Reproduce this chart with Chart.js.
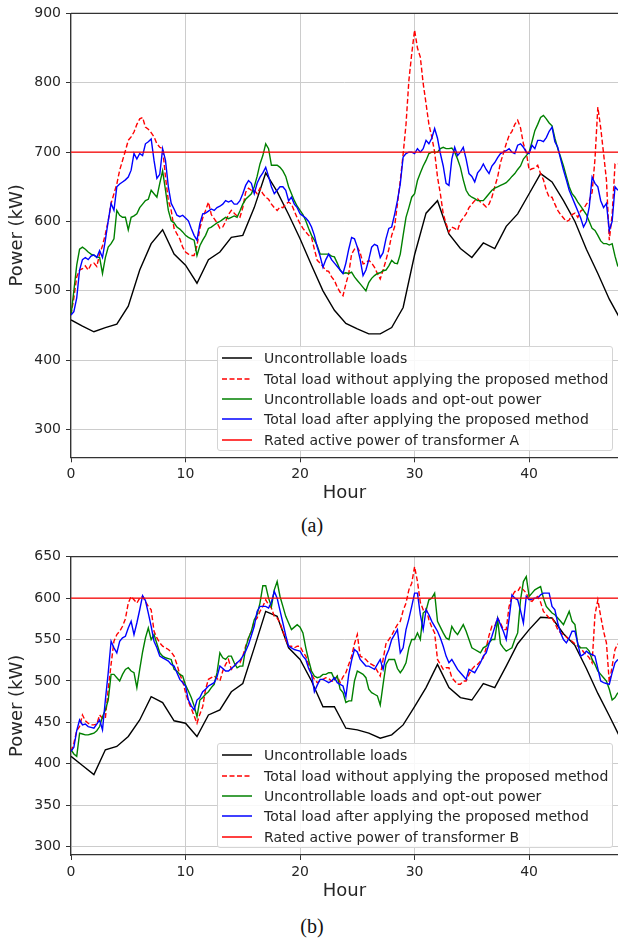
<!DOCTYPE html>
<html>
<head>
<meta charset="utf-8">
<script src="https://cdn.jsdelivr.net/npm/chart.js@4.4.0/dist/chart.umd.min.js"></script>
<style>
html, body { margin: 0; padding: 0; background: #fff; overflow: hidden; }
body { width: 618px; height: 939px; position: relative; font-family: "DejaVu Sans", sans-serif; }
canvas { position: absolute; left: 0; }
#chartA { top: 0; }
#chartB { top: 540px; }
.legend { position: absolute; left: 217px; width: 396px; border: 1px solid #d4d4d4; border-radius: 3px;
  background: rgba(255,255,255,0.85); box-sizing: border-box; z-index: 2; padding-top: 1px; }
.legend .row { height: 20.4px; display: flex; align-items: center; font-size: 14px; color: #262626; white-space: nowrap; }
.legend svg { width: 30px; height: 6px; margin: 0 12px 0 4px; flex: none; }
.caption { position: absolute; left: 0; width: 624px; text-align: center; font-family: "Liberation Serif", serif;
  font-size: 20px; color: #111; }
</style>
</head>
<body>
<canvas id="chartA" width="618" height="510"></canvas>
<canvas id="chartB" width="618" height="370"></canvas>
<div class="legend" id="legendA" style="top:346px"></div>
<div class="legend" id="legendB" style="top:743px"></div>
<div class="caption" style="top:514px">(a)</div>
<div class="caption" style="top:915px">(b)</div>
<script>
// time axis
const STEP = 0.25;
const xTicks = [0, 10, 20, 30, 40];
const yTicksA = [300, 400, 500, 600, 700, 800, 900];
const yTicksB = [300, 350, 400, 450, 500, 550, 600, 650];

const labelsA = [
    'Uncontrollable loads',
    'Total load without applying the proposed method',
    'Uncontrollable loads and opt-out power',
    'Total load after applying the proposed method',
    'Rated active power of transformer A'
];
const labelsB = labelsA.slice(0, 4).concat(['Rated active power of transformer B']);

const ratedA = 700;
const ratedB = 600;

// ---- transformer A (hourly black line, quarter-hour traces) ----
const uncontrolA = [458,449,441,447,452,478,530,568,588,553,537,511,545,556,577,580,620,670,643,610,
    575,537,500,472,453,445,438,438,447,476,552,612,630,582,561,548,569,561,593,611,
    640,669,657,630,600,560,525,488,458];

const withoutA = [
    465,490,520,530, 532,536,530,538, 540,535,553,565, 582,601,626,640,
    654,674,688,702, 717,722,729,740, 748,750,736,733, 728,722,712,707,
    705,664,630,616, 590,582,575,563, 556,553,551,551, 565,590,605,616,
    628,610,604,598, 590,592,600,610, 616,612,608,606, 620,642,648,645,
    645,640,648,640, 635,632,625,620, 616,621,620,625, 628,625,615,605,
    597,590,585,580, 577,560,544,540, 535,529,528,520, 515,505,498,493,
    510,525,553,560, 563,555,539,540, 544,540,534,525, 517,530,544,560,
    580,592,625,659, 697,740,803,842, 876,850,837,799, 770,740,722,700,
    664,640,611,597, 585,592,590,587, 600,605,611,620, 625,630,633,628,
    625,621,625,635, 650,664,685,698, 712,724,730,740, 746,735,712,700,
    674,676,677,681, 669,660,645,635, 635,625,616,610, 605,600,602,610,
    612,606,615,618, 625,630,642,690, 765,735,698,660, 573,610,683,683
];

const optOutA = [
    465,500,537,560, 563,560,556,553, 551,549,548,525, 548,563,568,575,
    616,609,606,606, 588,606,608,611, 620,625,630,632, 645,640,635,655,
    673,645,616,601, 598,592,589,585, 580,577,575,573, 551,565,573,580,
    590,592,595,598, 600,603,606,604, 606,608,606,615, 625,632,636,640,
    650,665,683,695, 712,705,681,681, 681,678,673,665, 650,640,630,622,
    616,610,601,590, 580,573,565,553, 553,553,553,550, 549,540,530,525,
    526,525,527,520, 515,510,505,500, 512,518,522,525, 526,529,530,536,
    544,540,539,553, 580,606,620,635, 640,659,670,680, 688,698,700,700,
    700,705,707,705, 705,706,700,690, 678,660,645,638, 635,633,630,630,
    630,635,640,645, 648,650,652,654, 656,660,665,669, 675,680,690,695,
    700,715,731,740, 750,753,748,742, 738,720,705,693, 680,665,650,640,
    635,628,622,616, 610,600,590,587, 580,572,568,568, 566,568,550,535
];

const afterA = [
    465,470,490,530, 545,548,545,550, 552,548,558,548, 573,601,626,616,
    650,654,657,660, 664,674,698,690, 698,695,712,715, 719,688,662,668,
    705,688,650,626, 618,609,607,609, 605,601,590,580, 573,597,611,612,
    615,618,616,620, 622,625,630,628, 630,625,625,630, 640,652,659,655,
    640,655,664,670, 678,665,650,640, 645,650,650,645, 630,635,625,620,
    611,608,605,600, 592,580,563,550, 534,545,553,545, 540,535,530,525,
    540,560,577,575, 563,545,522,530, 545,563,567,565, 548,555,575,590,
    592,610,630,654, 693,698,700,700, 698,705,700,705, 717,712,720,734,
    720,698,680,655, 652,690,707,695, 700,707,690,669, 665,657,670,675,
    683,675,669,680, 685,692,698,700, 702,705,700,698, 710,712,707,700,
    698,710,705,717, 717,715,721,730, 736,715,707,690, 674,660,645,635,
    625,615,605,592, 600,621,664,655, 650,630,620,626, 587,600,650,645
];

// ---- transformer B ----
const uncontrolB = [409,398,387,417,421,433,453,481,474,452,449,433,459,465,487,497,540,584,578,540,
    526,500,469,469,443,441,437,431,435,447,469,492,520,492,480,477,497,492,518,545,
    562,577,576,557,543,515,485,458,430];

const withoutB = [
    415,425,440,445, 459,452,449,447, 447,448,459,455, 455,490,520,548,
    556,560,566,575, 594,602,598,594, 600,602,596,590, 586,560,552,546,
    542,540,538,535, 530,520,508,500, 486,475,467,458, 449,460,469,490,
    502,504,506,503, 500,512,520,526, 514,518,522,522, 530,542,552,560,
    572,576,584,590, 598,592,588,578, 576,570,560,550, 542,542,540,542,
    542,535,530,520, 508,502,498,500, 502,504,503,500, 500,506,498,505,
    510,520,530,545, 556,530,528,526, 522,520,518,512, 506,526,545,550,
    555,562,568,572, 585,594,610,618, 638,620,595,586, 588,574,565,558,
    526,520,514,516, 516,504,500,496, 496,500,500,508, 514,518,520,524,
    528,540,555,566, 566,576,570,562, 562,590,602,608, 608,614,610,606,
    598,596,600,602, 595,584,580,576, 576,570,562,558, 556,553,550,548,
    545,542,540,535, 532,528,522,580, 598,578,560,546, 498,518,538,545
];

const optOutB = [
    417,412,409,437, 436,435,435,436, 437,440,445,457, 465,477,508,508,
    504,500,508,514, 516,512,510,492, 514,535,552,564, 550,556,545,534,
    530,528,527,526, 514,512,508,506, 495,488,480,470, 457,477,480,484,
    487,492,496,510, 534,528,526,530, 530,522,516,518, 518,540,552,560,
    574,580,594,615, 615,600,590,610, 620,602,590,578, 570,562,565,568,
    565,558,540,525, 512,506,504,505, 508,508,510,510, 502,506,490,486,
    474,476,476,500, 512,510,508,504, 490,486,484,482, 471,496,520,526,
    526,526,515,510, 515,522,540,550, 550,558,550,582, 585,598,600,606,
    572,565,558,552, 550,566,560,556, 562,568,560,550, 540,538,536,534,
    540,542,546,550, 550,574,545,540, 536,538,540,550, 558,598,620,626,
    602,606,610,612, 614,600,590,586, 582,580,576,572, 568,576,584,572,
    568,544,540,540, 540,536,526,520, 512,508,504,500, 490,477,480,486
];

const afterB = [
    415,420,440,453, 447,448,445,444, 443,448,453,441, 477,510,548,540,
    534,548,552,554, 564,572,556,570, 586,603,597,582, 566,548,540,530,
    528,526,524,520, 518,510,502,498, 494,477,470,465, 477,480,487,490,
    494,496,498,505, 518,515,512,512, 515,518,522,525, 530,536,544,555,
    566,584,590,590, 590,588,595,608, 600,585,570,555, 542,540,538,537,
    536,530,526,515, 508,487,495,502, 502,500,498,500, 504,498,496,494,
    481,508,525,538, 535,526,522,518, 518,516,514,520, 526,514,530,538,
    550,556,562,534, 540,562,575,590, 606,606,580,562, 586,580,572,566,
    560,552,542,530, 522,526,520,514, 510,506,502,514, 512,510,516,522,
    530,534,545,554, 565,576,568,560, 550,575,604,600, 598,585,570,602,
    598,599,600,600, 604,606,606,606, 590,586,570,558, 550,546,552,560,
    560,545,530,532, 536,533,532,530, 515,500,498,497, 496,510,522,526
];

const colors = ['#000000', '#ff0000', '#008000', '#0000ff', '#ff0000'];
const dashes = [[], [5, 2.5], [], [], []];

const X_MAX = 47.76;

function pts(vals, step) {
    return vals.map((v, i) => ({ x: i * step, y: v }));
}

function makeSets(labels, black, red, green, blue, rated) {
    const series = [pts(black, 1), pts(red, STEP), pts(green, STEP), pts(blue, STEP),
        [{ x: 0, y: rated }, { x: 48, y: rated }]];
    return series.map((d, i) => ({
        label: labels[i],
        data: d,
        borderColor: colors[i],
        borderWidth: 1.4,
        borderDash: dashes[i],
        pointRadius: 0,
        fill: false,
        tension: 0,
        order: 5 - i   // later series drawn on top, like the original
    }));
}

// top frame line (the axes only draw left and bottom)
const topSpine = {
    id: 'topSpine',
    afterDraw(chart) {
        const { ctx, chartArea: a } = chart;
        ctx.save();
        ctx.strokeStyle = '#333';
        ctx.lineWidth = 1.2;
        ctx.beginPath();
        ctx.moveTo(a.left, a.top);
        ctx.lineTo(a.right, a.top);
        ctx.stroke();
        ctx.restore();
    }
};

function makeChart(id, sets, yMin, yMax, yTicks, padTop, xAxisH, titlePad) {
    const tickFont = { family: 'DejaVu Sans', size: 14 };
    const titleFont = { family: 'DejaVu Sans', size: 18 };
    return new Chart(document.getElementById(id), {
        type: 'line',
        data: { datasets: sets },
        plugins: [topSpine],
        options: {
            responsive: false,
            animation: false,
            devicePixelRatio: 1,
            layout: { padding: { top: padTop, left: 0, right: 0, bottom: 0 } },
            plugins: { legend: { display: false }, tooltip: { enabled: false } },
            scales: {
                x: {
                    type: 'linear', min: 0, max: X_MAX,
                    afterBuildTicks: s => { s.ticks = xTicks.map(v => ({ value: v })); },
                    afterFit: s => { s.height = xAxisH; },
                    grid: { color: '#cccccc', lineWidth: 1, tickLength: 5, tickColor: '#333' },
                    border: { color: '#333', width: 1.2 },
                    ticks: { font: tickFont, color: '#262626', padding: 4, maxRotation: 0 },
                    title: { display: true, text: 'Hour', font: titleFont, color: '#262626',
                        padding: { top: 0, bottom: titlePad } }
                },
                y: {
                    min: yMin, max: yMax,
                    afterBuildTicks: s => { s.ticks = yTicks.map(v => ({ value: v })); },
                    afterFit: s => { s.width = 71; },
                    grid: { color: '#cccccc', lineWidth: 1, tickLength: 5, tickColor: '#333' },
                    border: { color: '#333', width: 1.2 },
                    ticks: { font: tickFont, color: '#262626', padding: 5 },
                    title: { display: true, text: 'Power (kW)', font: titleFont, color: '#262626',
                        padding: { top: 7, bottom: 0 } }
                }
            }
        }
    });
}

function buildLegend(id, sets) {
    const box = document.getElementById(id);
    const ns = 'http://www.w3.org/2000/svg';
    sets.forEach(s => {
        const row = document.createElement('div');
        row.className = 'row';
        const svg = document.createElementNS(ns, 'svg');
        svg.setAttribute('viewBox', '0 0 30 6');
        const ln = document.createElementNS(ns, 'line');
        ln.setAttribute('x1', '0'); ln.setAttribute('x2', '30');
        ln.setAttribute('y1', '3'); ln.setAttribute('y2', '3');
        ln.setAttribute('stroke', s.borderColor);
        ln.setAttribute('stroke-width', '1.5');
        if (s.borderDash.length) ln.setAttribute('stroke-dasharray', s.borderDash.join(' '));
        svg.appendChild(ln);
        row.appendChild(svg);
        row.appendChild(document.createTextNode(s.label));
        box.appendChild(row);
    });
}

const setsA = makeSets(labelsA, uncontrolA, withoutA, optOutA, afterA, ratedA);
const setsB = makeSets(labelsB, uncontrolB, withoutB, optOutB, afterB, ratedB);

makeChart('chartA', setsA, 260, 900, yTicksA, 13, 52.7, 6.3);
makeChart('chartB', setsB, 290, 650, yTicksB, 16.7, 55, 7.6);

buildLegend('legendA', setsA);
buildLegend('legendB', setsB);
</script>
</body>
</html>
